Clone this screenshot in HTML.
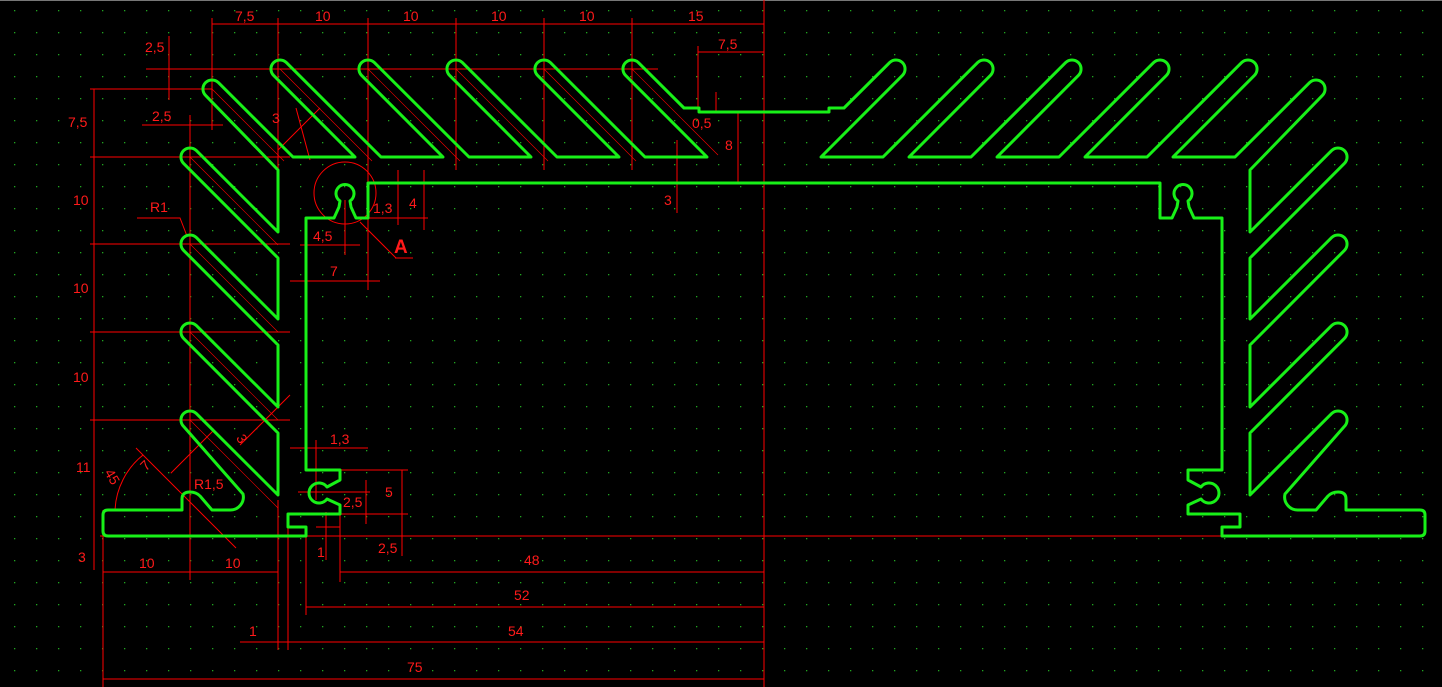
<!DOCTYPE html>
<html><head><meta charset="utf-8"><style>
html,body{margin:0;padding:0;background:#000;}
svg{display:block}
text{font-family:"Liberation Sans",sans-serif;font-size:14px;fill:#ff1a1a}
</style></head><body>
<svg width="1442" height="687" viewBox="0 0 1442 687" xmlns="http://www.w3.org/2000/svg">
<defs>
<pattern id="g" x="14" y="10" width="22" height="22" patternUnits="userSpaceOnUse">
<rect x="0" y="0" width="1.3" height="1.3" fill="#1fa51f"/>
</pattern>
<g id="half">
<path d="M764,183 L368,183 L368,218 L356,218 L351,207 L350,201 A9 9 0 1 0 340,201 L339,207 L334,218 L306,218 L306,470 L340,470 L340,480 L327,487 A10 10 0 1 0 327,499 L340,505 L340,514 L288,514 L288,527 L306,527 L306,536 L108,536 Q103,536 103,531 L103,515 Q103,510 108,510 L182,510 L182,499 Q182,492 190,492 Q196,492 200,496 L212,510 L230,510 A13 13 0 0 0 243,494 L183.6,426.4 A9 9 0 1 1 196.4,413.6 L278,495 L278,433 L183.6,338.4 A9 9 0 1 1 196.4,325.6 L278,407 L278,345 L183.6,250.4 A9 9 0 1 1 196.4,237.6 L278,319 L278,258 L183.6,163.4 A9 9 0 1 1 196.4,150.6 L278,232 L278,170 L205.6,95.4 A9 9 0 1 1 218.4,82.6 L293,157 L355,157 L273.6,75.4 A9 9 0 1 1 286.4,62.6 L381,157 L443,157 L361.6,75.4 A9 9 0 1 1 374.4,62.6 L469,157 L531,157 L449.6,75.4 A9 9 0 1 1 462.4,62.6 L557,157 L619,157 L537.6,75.4 A9 9 0 1 1 550.4,62.6 L645,157 L707,157 L625.6,75.4 A9 9 0 1 1 638.4,62.6 L684,108 L699,108 L699,112 L764,112"/>
</g>
</defs>
<rect width="1442" height="687" fill="#000"/>
<rect width="1442" height="687" fill="url(#g)"/>
<line x1="0" y1="0.5" x2="1442" y2="0.5" stroke="#777" stroke-width="1"/>

<g stroke="#ff0000" stroke-width="1" fill="none">
<line x1="764" y1="0" x2="764" y2="687"/>
<line x1="100" y1="536" x2="1224" y2="536"/>
<line x1="212" y1="24" x2="764" y2="24"/>
<line x1="212" y1="18" x2="212" y2="130"/>
<line x1="278" y1="18" x2="278" y2="185"/>
<line x1="368" y1="18" x2="368" y2="290"/>
<line x1="456" y1="18" x2="456" y2="170"/>
<line x1="544" y1="18" x2="544" y2="170"/>
<line x1="632" y1="18" x2="632" y2="170"/>
<line x1="146" y1="69" x2="658" y2="69"/>
<line x1="90" y1="89" x2="212" y2="89"/>
<line x1="90" y1="157" x2="290" y2="157"/>
<line x1="90" y1="244" x2="290" y2="244"/>
<line x1="90" y1="332" x2="290" y2="332"/>
<line x1="90" y1="420" x2="290" y2="420"/>
<line x1="94" y1="89" x2="94" y2="570"/>
<line x1="169" y1="36" x2="169" y2="100"/>
<line x1="142" y1="125" x2="223" y2="125"/>
<line x1="190" y1="115" x2="190" y2="580"/>
<line x1="698" y1="52" x2="764" y2="52"/>
<line x1="698" y1="46" x2="698" y2="112"/>
<line x1="738" y1="112" x2="738" y2="183"/>
<line x1="677" y1="140" x2="677" y2="213"/>
<line x1="716" y1="92" x2="716" y2="112"/>
<line x1="398" y1="170" x2="398" y2="225"/>
<line x1="424" y1="170" x2="424" y2="230"/>
<line x1="368" y1="218" x2="428" y2="218"/>
<line x1="300" y1="245" x2="360" y2="245"/>
<line x1="345" y1="200" x2="345" y2="255"/>
<line x1="290" y1="281" x2="380" y2="281"/>
<line x1="360" y1="222" x2="396" y2="258"/>
<line x1="395" y1="258" x2="413" y2="258"/>
<ellipse cx="345" cy="193" rx="31" ry="31"/>
<polyline points="137,218 180,218 187,236"/>
<line x1="290" y1="448" x2="368" y2="448"/>
<line x1="340" y1="470" x2="408" y2="470"/>
<line x1="340" y1="514" x2="408" y2="514"/>
<line x1="402" y1="470" x2="402" y2="556"/>
<line x1="298" y1="492" x2="370" y2="492"/>
<line x1="366" y1="480" x2="366" y2="524"/>
<line x1="316" y1="527" x2="340" y2="527"/>
<line x1="326" y1="512" x2="326" y2="560"/>
<line x1="316" y1="440" x2="316" y2="500"/>
<line x1="103" y1="510" x2="103" y2="687"/>
<line x1="103" y1="572" x2="278" y2="572"/>
<line x1="278" y1="500" x2="278" y2="650"/>
<line x1="288" y1="527" x2="288" y2="650"/>
<line x1="306" y1="536" x2="306" y2="615"/>
<line x1="340" y1="514" x2="340" y2="582"/>
<line x1="340" y1="572" x2="764" y2="572"/>
<line x1="306" y1="607" x2="764" y2="607"/>
<line x1="240" y1="642" x2="764" y2="642"/>
<line x1="103" y1="679" x2="764" y2="679"/>
<line x1="136" y1="448" x2="236" y2="548"/>
<line x1="162" y1="452" x2="222" y2="452" transform="rotate(-45 192 452)"/>
<path d="M115,510 A75 75 0 0 1 143,455"/>
<g stroke-width="0.6">
<line x1="190" y1="157" x2="278" y2="245"/>
<line x1="190" y1="244" x2="278" y2="332"/>
<line x1="190" y1="332" x2="278" y2="420"/>
<line x1="190" y1="420" x2="278" y2="508"/>
<line x1="212" y1="89" x2="284" y2="161"/>
<line x1="280" y1="69" x2="372" y2="161"/>
<line x1="368" y1="69" x2="460" y2="161"/>
<line x1="456" y1="69" x2="548" y2="161"/>
<line x1="544" y1="69" x2="636" y2="161"/>
<line x1="632" y1="69" x2="718" y2="155"/>
</g>
<line x1="278" y1="150" x2="320" y2="108"/>
<line x1="296" y1="108" x2="310" y2="160"/>
<line x1="240" y1="445" x2="290" y2="395"/>
</g>

<g fill="none" stroke="#18f018" stroke-width="3" stroke-linejoin="round">
<use href="#half"/>
<use href="#half" transform="matrix(-1,0,0,1,1528,0)"/>
</g>

<text x="235" y="21">7,5</text>
<text x="315" y="21">10</text>
<text x="403" y="21">10</text>
<text x="491" y="21">10</text>
<text x="579" y="21">10</text>
<text x="688" y="21">15</text>
<text x="145" y="52">2,5</text>
<text x="152" y="121">2,5</text>
<text x="718" y="49">7,5</text>
<text x="692" y="128">0,5</text>
<text x="725" y="150">8</text>
<text x="664" y="205">3</text>
<text x="68" y="127">7,5</text>
<text x="73" y="205">10</text>
<text x="73" y="293">10</text>
<text x="73" y="382">10</text>
<text x="76" y="472">11</text>
<text x="78" y="562">3</text>
<text x="272" y="123">3</text>
<text x="150" y="212">R1</text>
<text x="373" y="213">1,3</text>
<text x="409" y="208">4</text>
<text x="313" y="241">4,5</text>
<text x="330" y="276">7</text>
<text x="394" y="253" style="font-size:19px;font-weight:bold">A</text>
<text x="330" y="444">1,3</text>
<text x="385" y="497">5</text>
<text x="343" y="507">2,5</text>
<text x="378" y="553">2,5</text>
<text x="317" y="557">1</text>
<text x="238" y="446" transform="rotate(60 244 440)">3</text>
<text x="105" y="481" transform="rotate(60 112 476)">45</text>
<text x="142" y="470" transform="rotate(-45 146 466)">7</text>
<text x="194" y="489">R1,5</text>
<text x="139" y="568">10</text>
<text x="225" y="568">10</text>
<text x="524" y="565">48</text>
<text x="514" y="600">52</text>
<text x="508" y="636">54</text>
<text x="249" y="636">1</text>
<text x="407" y="672">75</text>
</svg>
</body></html>
